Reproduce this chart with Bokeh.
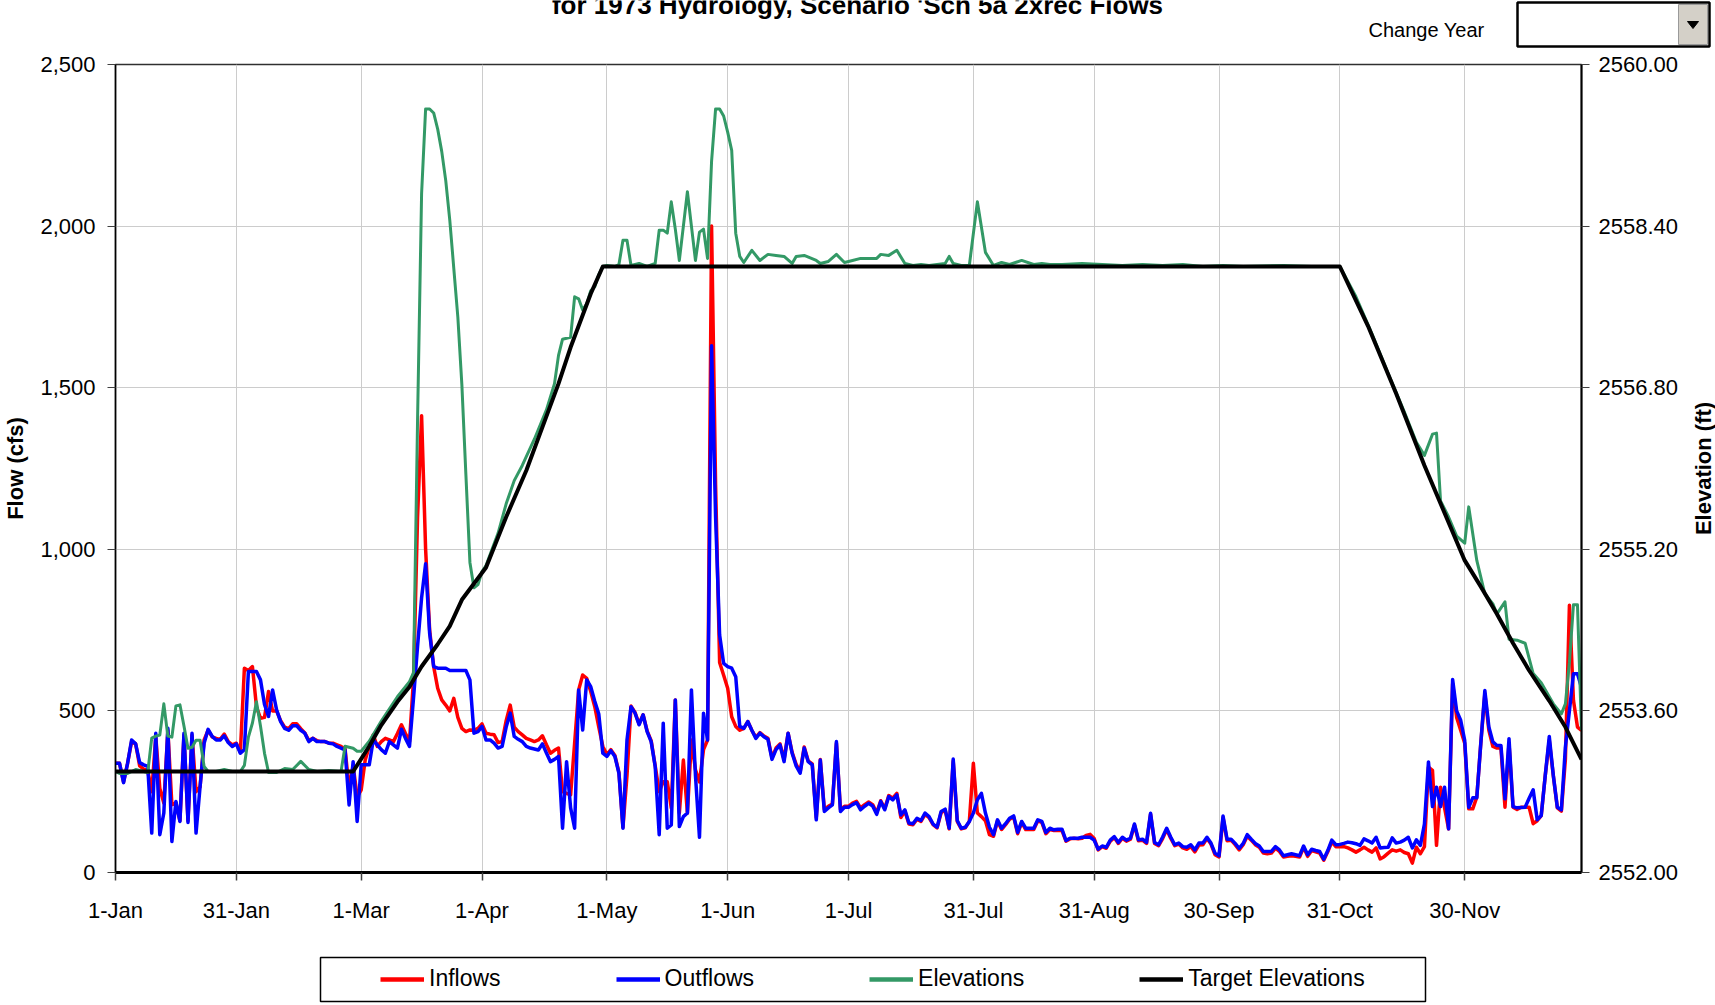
import math
from bokeh.plotting import figure
from bokeh.layouts import column, row
from bokeh.models import (Range1d, LinearAxis, FixedTicker, NumeralTickFormatter, Legend,
                          LegendItem)
from bokeh.core.properties import value
from bokeh.embed import file_html
from bokeh.resources import INLINE

# ---------------- data ----------------
title_text = "for 1973 Hydrology, Scenario 'Sch 5a 2xrec Flows"
control_text = "Change Year"
left_axis_title = "Flow (cfs)"
right_axis_title = "Elevation (ft)"
x_tick_days = [0, 30, 61, 91, 122, 152, 182, 213, 243, 274, 304, 335]
x_tick_labels = ["1-Jan", "31-Jan", "1-Mar", "1-Apr", "1-May", "1-Jun", "1-Jul",
                 "31-Jul", "31-Aug", "30-Sep", "31-Oct", "30-Nov"]
flow_ticks = [0, 500, 1000, 1500, 2000, 2500]
elev_ticks = [2552.0, 2553.6, 2555.2, 2556.8, 2558.4, 2560.0]
series_names = ["Inflows", "Outflows", "Elevations", "Target Elevations"]

flow_days = list(range(365))

inflows = [
    338, 338, 280, 338, 405, 398, 330, 320, 315, 250,
    420, 260, 215, 440, 210, 215, 160, 425, 160, 425,
    250, 265, 410, 440, 420, 415, 412, 428, 405, 395,
    400, 372, 632, 625, 637, 513, 477, 480, 560, 500,
    500, 470, 450, 445, 460, 460, 445, 432, 408, 415,
    408, 405, 405, 400, 400, 395, 390, 382, 260, 330,
    235, 255, 348, 390, 426, 390, 405, 415, 410, 405,
    430, 457, 430, 405, 600, 1100, 1413, 1000, 750, 637,
    570, 534, 518, 500, 539, 480, 446, 436, 441, 440,
    446, 460, 431, 428, 426, 402, 405, 470, 518, 450,
    436, 426, 415, 410, 405, 410, 423, 395, 369, 378,
    385, 250, 245, 240, 400, 565, 611, 601, 560, 513,
    450, 390, 365, 380, 362, 310, 140, 300, 515, 495,
    460, 488, 438, 408, 330, 250, 281, 281, 200, 534,
    184, 348, 184, 410, 318, 280, 380, 410, 2000, 1200,
    650, 610, 570, 482, 452, 440, 446, 467, 440, 418,
    433, 422, 415, 355, 385, 398, 350, 431, 372, 335,
    312, 388, 345, 336, 170, 350, 195, 205, 212, 400,
    195, 205, 205, 215, 220, 200, 210, 218, 210, 185,
    222, 198, 238, 230, 245, 170, 190, 150, 148, 165,
    158, 180, 170, 148, 138, 185, 193, 135, 345, 158,
    135, 138, 158, 338, 184, 173, 160, 117, 112, 160,
    133, 148, 165, 172, 120, 155, 133, 133, 133, 160,
    155, 120, 133, 130, 130, 130, 97, 104, 106, 104,
    106, 115, 118, 105, 70, 80, 75, 97, 108, 90,
    106, 97, 103, 147, 98, 100, 90, 180, 90, 83,
    105, 133, 106, 83, 88, 76, 72, 80, 64, 85,
    86, 105, 88, 55, 48, 170, 98, 100, 86, 70,
    86, 112, 100, 86, 78, 60, 58, 60, 75, 65,
    48, 50, 52, 50, 48, 78, 50, 68, 64, 60,
    38, 64, 95, 80, 80, 80, 76, 70, 63, 70,
    78, 70, 63, 76, 42, 49, 60, 70, 66, 70,
    62, 58, 29, 78, 58, 80, 326, 316, 84, 264,
    200, 135, 584, 480, 440, 400, 197, 197, 233, 400,
    553, 440, 390, 385, 385, 202, 400, 202, 195, 202,
    202, 202, 151, 160, 176, 300, 409, 300, 200, 190,
    350, 827, 533, 450, 440,
]

outflows = [
    338, 338, 278, 338, 410, 398, 340, 333, 328, 122,
    431, 117, 184, 446, 96, 220, 158, 431, 155, 431,
    122, 266, 400, 443, 421, 410, 410, 423, 402, 390,
    398, 369, 380, 622, 622, 622, 596, 520, 483, 565,
    503, 467, 446, 440, 454, 454, 440, 431, 405, 415,
    405, 405, 405, 400, 398, 390, 385, 379, 209, 343,
    158, 333, 333, 333, 410, 395, 380, 369, 405, 395,
    385, 443, 415, 390, 540, 700, 850, 955, 740, 637,
    632, 632, 632, 625, 625, 625, 625, 625, 596, 431,
    436, 452, 410, 410, 400, 385, 390, 450, 493, 421,
    412, 405, 390, 385, 382, 379, 398, 370, 343, 350,
    359, 137, 343, 200, 137, 565, 441, 596, 575, 530,
    490, 369, 359, 377, 359, 307, 137, 410, 513, 493,
    457, 488, 436, 405, 328, 117, 462, 137, 147, 534,
    142, 173, 184, 565, 300, 109, 493, 410, 1630, 1100,
    735, 647, 637, 632, 606, 452, 446, 467, 440, 415,
    431, 420, 412, 350, 380, 395, 343, 431, 369, 330,
    307, 385, 343, 333, 163, 348, 189, 200, 209, 405,
    189, 202, 202, 210, 216, 194, 205, 214, 206, 180,
    220, 194, 235, 225, 240, 178, 194, 153, 151, 168,
    161, 184, 173, 150, 140, 189, 196, 137, 351, 161,
    137, 140, 158, 184, 225, 245, 184, 140, 117, 163,
    137, 151, 168, 175, 124, 158, 137, 137, 137, 163,
    158, 124, 137, 132, 134, 134, 99, 106, 106, 106,
    109, 109, 109, 100, 72, 82, 78, 100, 111, 93,
    109, 100, 106, 150, 101, 103, 93, 183, 93, 86,
    110, 137, 110, 86, 91, 80, 78, 86, 70, 91,
    91, 109, 91, 60, 52, 175, 103, 103, 90, 75,
    90, 117, 103, 90, 82, 65, 65, 65, 80, 70,
    52, 55, 58, 55, 52, 82, 55, 72, 68, 65,
    41, 68, 100, 86, 87, 90, 94, 92, 89, 84,
    104, 98, 91, 109, 76, 77, 78, 107, 91, 94,
    100, 109, 76, 101, 84, 150, 342, 204, 264, 204,
    264, 135, 597, 500, 471, 409, 202, 231, 231, 400,
    563, 450, 404, 393, 393, 228, 414, 204, 200, 201,
    202, 230, 256, 163, 176, 300, 421, 300, 202, 194,
    388, 500, 615, 615, 572,
]

elev_days = [
    0, 1, 3, 5, 7, 8, 9, 10, 11, 12, 13, 14, 15, 16, 17, 18, 19, 20, 21, 22,
    23, 25, 27, 29, 31, 32, 33, 34, 35, 36, 37, 38, 40, 42, 44, 46, 48, 50, 53, 56,
    57, 59, 60, 61, 63, 66, 70, 73, 74, 75, 76, 77, 78, 79, 80, 81, 82, 83, 84, 85,
    86, 87, 88, 89, 90, 91, 92, 95, 97, 99, 101, 104, 107, 109, 110, 111, 113, 114, 115, 116,
    117, 118, 119, 120, 121, 122, 124, 125, 126, 127, 128, 130, 132, 134, 135, 136, 137, 138, 139, 140,
    141, 142, 143, 144, 145, 146, 147, 148, 149, 150, 151, 152, 153, 154, 155, 156, 158, 160, 162, 164,
    166, 168, 169, 171, 174, 175, 177, 179, 181, 183, 185, 189, 190, 192, 194, 196, 198, 200, 202, 204,
    206, 207, 208, 210, 212, 214, 216, 218, 220, 222, 225, 228, 230, 232, 235, 240, 245, 250, 255, 260,
    265, 270, 275, 280, 290, 297, 304, 308, 312, 316, 320, 323, 325, 327, 328, 329, 331, 333, 335, 336,
    338, 340, 342, 343, 345, 346, 348, 350, 352, 354, 356, 357, 359, 360, 361, 362, 363, 364,
]
elevations = [
    2553.00, 2552.98, 2552.98, 2553.02, 2553.00, 2552.99, 2553.33, 2553.35, 2553.36, 2553.67,
    2553.35, 2553.34, 2553.65, 2553.66, 2553.45, 2553.23, 2553.24, 2553.31, 2553.31, 2553.05,
    2553.00, 2553.00, 2553.02, 2553.00, 2553.00, 2553.06, 2553.34, 2553.48, 2553.69, 2553.45,
    2553.18, 2552.99, 2552.99, 2553.03, 2553.02, 2553.10, 2553.02, 2553.00, 2553.01, 2553.00,
    2553.25, 2553.23, 2553.20, 2553.20, 2553.30, 2553.50, 2553.74, 2553.89, 2553.98, 2556.48,
    2558.72, 2559.56, 2559.56, 2559.52, 2559.36, 2559.14, 2558.85, 2558.46, 2557.98, 2557.50,
    2556.83, 2555.94, 2555.07, 2554.82, 2554.85, 2554.98, 2555.04, 2555.36, 2555.65, 2555.88,
    2556.03, 2556.29, 2556.58, 2556.84, 2557.12, 2557.28, 2557.30, 2557.70, 2557.68, 2557.57,
    2557.63, 2557.76, 2557.80, 2557.92, 2558.00, 2558.01, 2558.00, 2558.02, 2558.26, 2558.26,
    2558.01, 2558.03, 2558.00, 2558.03, 2558.36, 2558.36, 2558.33, 2558.64, 2558.37, 2558.06,
    2558.40, 2558.74, 2558.40, 2558.06, 2558.34, 2558.37, 2558.08, 2559.04, 2559.56, 2559.56,
    2559.49, 2559.33, 2559.15, 2558.33, 2558.10, 2558.04, 2558.16, 2558.06, 2558.12, 2558.11,
    2558.10, 2558.03, 2558.10, 2558.11, 2558.06, 2558.03, 2558.05, 2558.12, 2558.04, 2558.06,
    2558.08, 2558.08, 2558.12, 2558.11, 2558.16, 2558.03, 2558.01, 2558.02, 2558.01, 2558.02,
    2558.03, 2558.10, 2558.03, 2558.01, 2558.01, 2558.64, 2558.14, 2558.01, 2558.04, 2558.02,
    2558.06, 2558.02, 2558.03, 2558.02, 2558.02, 2558.03, 2558.02, 2558.01, 2558.02, 2558.01,
    2558.02, 2558.00, 2558.01, 2558.00, 2558.01, 2558.00, 2558.00, 2557.70, 2557.33, 2556.94,
    2556.56, 2556.26, 2556.13, 2556.34, 2556.35, 2555.68, 2555.52, 2555.33, 2555.26, 2555.62,
    2555.09, 2554.76, 2554.66, 2554.56, 2554.68, 2554.31, 2554.30, 2554.27, 2553.97, 2553.88,
    2553.74, 2553.67, 2553.57, 2553.67, 2554.08, 2554.65, 2554.65, 2553.41,
]

target_days = [0, 59, 63, 66, 70, 73, 76, 80, 83, 86, 92, 97, 102, 106, 110, 113, 118, 121,
               304, 311, 318, 325, 335, 339, 343, 347, 351, 356, 360, 364]
target_elevations = [2553.00, 2553.00, 2553.25, 2553.46, 2553.69, 2553.84, 2554.04, 2554.26,
                     2554.44, 2554.70, 2555.02, 2555.52, 2555.98, 2556.41, 2556.84, 2557.20,
                     2557.73, 2558.00, 2558.00, 2557.41, 2556.74, 2556.03, 2555.09, 2554.83,
                     2554.56, 2554.27, 2554.00, 2553.70, 2553.44, 2553.12]

# ---------------- styles / layout ----------------
FONT = "Liberation Sans"
COLORS = ["#FF0000", "#0000FF", "#339966", "black"]
WIDTHS = [3.5, 3.5, 3, 4]
W = 1715
TOP_H = 48           # strip with title and "Change Year" control
MAIN_H = 892
BOT_H = 65           # strip with the legend
FRAME_L, FRAME_R, FRAME_T, FRAME_B = 115, 1583, 64, 872
MW = FRAME_R + 98    # main chart width (right border holds the elevation tick labels)
RS_W = W - MW        # strip right of the chart, holding the right axis title


def strip(width, height, flip=True):
    yr = Range1d(height, 0) if flip else Range1d(0, height)
    f = figure(width=width, height=height, x_range=Range1d(0, width), y_range=yr,
               output_backend="svg", toolbar_location=None, title=None,
               x_axis_location=None, y_axis_location=None, min_border=0)
    f.frame_align = False
    f.outline_line_color = None
    f.background_fill_color = "white"
    f.border_fill_color = "white"
    f.grid.visible = False
    return f


# ---- top strip: title (its top is cut off, as in the reference) and year selector ----
top = strip(W, TOP_H)
top.text(x=[857], y=[4], text=[title_text], text_align="center", text_baseline="middle",
         text_font=value(FONT), text_font_style="bold", text_font_size="26px",
         text_color="black")
top.text(x=[1368], y=[29], text=[control_text], text_align="left", text_baseline="middle",
         text_font=value(FONT), text_font_size="20px", text_color="black")
top.quad(left=[1517], right=[1709], top=[2], bottom=[46], fill_color="white",
         line_color="black", line_width=2.5)
top.quad(left=[1678], right=[1707], top=[4], bottom=[44], fill_color="#D4D0C8",
         line_color="#9A9A9A", line_width=1)
top.patch(x=[1687, 1698, 1692.5], y=[21, 21, 28], fill_color="black", line_color="black",
          line_width=1)

# ---- main chart ----
p = figure(width=MW, height=MAIN_H, x_range=Range1d(0, 364), y_range=Range1d(0, 2500),
           output_backend="svg", toolbar_location=None, title=None,
           min_border_left=FRAME_L, min_border_right=MW - FRAME_R,
           min_border_top=FRAME_T - TOP_H, min_border_bottom=TOP_H + MAIN_H - FRAME_B)
p.frame_align = False
p.extra_y_ranges = {"elev": Range1d(2552, 2560)}
p.background_fill_color = "white"
p.border_fill_color = "white"
p.outline_line_color = "#303030"
p.outline_line_width = 1.5
p.grid.grid_line_color = "#CCCCCC"
p.grid.grid_line_width = 1

xa = p.xaxis[0]
xa.ticker = FixedTicker(ticks=x_tick_days)
xa.major_label_overrides = dict(zip(x_tick_days, x_tick_labels))
xa.axis_line_width = 3
xa.axis_line_color = "black"
xa.major_tick_out = 8
xa.major_tick_in = 0
xa.major_tick_line_color = "#404040"
xa.major_tick_line_width = 1.5
xa.minor_tick_line_color = None
xa.major_label_standoff = 17
xa.major_label_text_font = FONT
xa.major_label_text_font_size = "22px"
xa.major_label_text_color = "black"

ya = p.yaxis[0]
ya.ticker = FixedTicker(ticks=flow_ticks)
ya.formatter = NumeralTickFormatter(format="0,0")
ya.axis_line_width = 1.5
ya.axis_line_color = "black"
ya.major_tick_out = 8
ya.major_tick_in = 0
ya.major_tick_line_color = "#404040"
ya.minor_tick_line_color = None
ya.major_label_standoff = 12
ya.major_label_text_font = FONT
ya.major_label_text_font_size = "22px"
ya.major_label_text_color = "black"
ya.axis_label = left_axis_title
ya.axis_label_standoff = 9
ya.axis_label_text_font = FONT
ya.axis_label_text_font_style = "bold"
ya.axis_label_text_font_size = "22px"
ya.axis_label_text_color = "black"

ra = LinearAxis(y_range_name="elev", ticker=FixedTicker(ticks=elev_ticks),
                formatter=NumeralTickFormatter(format="0.00"))
ra.axis_line_width = 2
ra.axis_line_color = "black"
ra.major_tick_out = 8
ra.major_tick_in = 0
ra.major_tick_line_color = "#404040"
ra.minor_tick_line_color = None
ra.major_label_standoff = 9
ra.major_label_text_font = FONT
ra.major_label_text_font_size = "22px"
ra.major_label_text_color = "black"
p.add_layout(ra, "right")

p.line(flow_days, inflows, line_color=COLORS[0], line_width=WIDTHS[0], line_join="round")
p.line(flow_days, outflows, line_color=COLORS[1], line_width=WIDTHS[1], line_join="round")
p.line(elev_days, elevations, y_range_name="elev", line_color=COLORS[2],
       line_width=WIDTHS[2], line_join="round")
p.line(target_days, target_elevations, y_range_name="elev", line_color=COLORS[3],
       line_width=WIDTHS[3], line_join="round")

# ---- right strip: right axis title, reading bottom to top ----
rs = strip(RS_W, MAIN_H, flip=False)
rs.text(x=[1703 - MW], y=[MAIN_H - ((FRAME_T + FRAME_B) / 2 - TOP_H)], text=[right_axis_title],
        angle=math.pi / 2, text_align="center", text_baseline="middle",
        text_font=value(FONT), text_font_style="bold", text_font_size="22px",
        text_color="black")

# ---- bottom strip: legend ----
bot = strip(W, BOT_H)
bot.quad(left=[320], right=[1425], top=[17], bottom=[61], fill_color="white",
         line_color="black", line_width=1.5)
nan = float("nan")
legend_renderers = [bot.line(x=[nan, nan], y=[nan, nan], line_color=c, line_width=4.5)
                    for c in COLORS]
legend = Legend(items=[LegendItem(label=n, renderers=[r])
                       for n, r in zip(series_names, legend_renderers)],
                orientation="horizontal", location=(380, BOT_H - 52),
                padding=0, margin=0, spacing=115, glyph_width=44, glyph_height=26,
                label_standoff=5, label_text_font=FONT, label_text_font_size="23px",
                label_text_color="black", border_line_alpha=0, background_fill_alpha=0)
bot.add_layout(legend)

layout = column(top, row(p, rs, spacing=0), bot, spacing=0)
open("out.html", "w").write(file_html(layout, INLINE))
